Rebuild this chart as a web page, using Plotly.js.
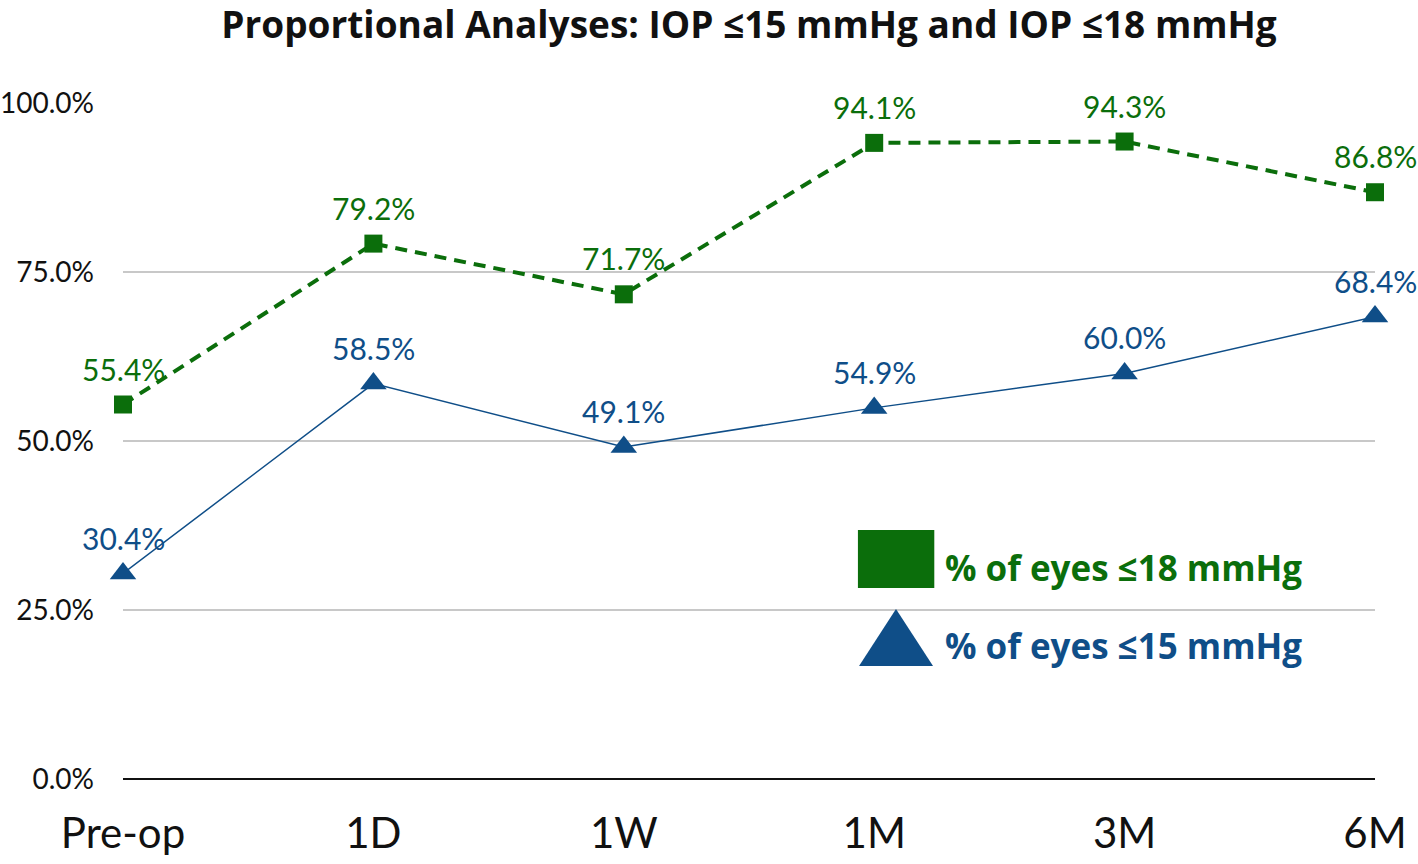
<!DOCTYPE html>
<html>
<head>
<meta charset="utf-8">
<script src="https://cdn.plot.ly/plotly-3.0.1.min.js"></script>
<style>
  html, body { margin: 0; padding: 0; background: #fff; }
  #chart { width: 1418px; height: 864px; }
</style>
</head>
<body>
<div id="chart"></div>
<script>
// time points and proportions (%)
var visits = ['Pre-op', '1D', '1W', '1M', '3M', '6M'];
var le18 = [55.4, 79.2, 71.7, 94.1, 94.3, 86.8];
var le15 = [30.4, 58.5, 49.1, 54.9, 60.0, 68.4];
var yTicks = [0, 25, 50, 75, 100];

var green = '#0b6e0b';
var blue = '#0f4e88';
var font = 'Lato, "Open Sans", sans-serif';
var boldFont = '"Open Sans", Lato, sans-serif';

var traces = [
  {
    type: 'scatter',
    mode: 'lines+markers',
    x: visits,
    y: le15,
    name: '% of eyes ≤15 mmHg',
    line: {color: blue, width: 1.5},
    marker: {symbol: 'triangle-up', size: 23, color: blue},
    cliponaxis: false,
    hoverinfo: 'skip'
  },
  {
    type: 'scatter',
    mode: 'lines+markers',
    x: visits,
    y: le18,
    name: '% of eyes ≤18 mmHg',
    line: {color: green, width: 4, dash: '12px,8px'},
    marker: {symbol: 'square', size: 18, color: green},
    cliponaxis: false,
    hoverinfo: 'skip'
  }
];

// value labels above each point
var annotations = [];
function addLabels(vals, color) {
  vals.forEach(function (v, i) {
    annotations.push({
      x: visits[i], y: v, xref: 'x', yref: 'y',
      text: v.toFixed(1) + '%',
      showarrow: false, yshift: 36,
      font: {family: font, size: 30, color: color}
    });
  });
}
addLabels(le18, green);
addLabels(le15, blue);

// custom legend with large symbols (paper coords)
annotations.push({
  xref: 'paper', yref: 'paper', x: 0.655, y: 0.313, xanchor: 'left', yanchor: 'middle',
  text: '<b>% of eyes ≤18 mmHg</b>', showarrow: false,
  font: {family: boldFont, size: 35, color: green}
});
annotations.push({
  xref: 'paper', yref: 'paper', x: 0.655, y: 0.198, xanchor: 'left', yanchor: 'middle',
  text: '<b>% of eyes ≤15 mmHg</b>', showarrow: false,
  font: {family: boldFont, size: 35, color: blue}
});

var shapes = [
  {type: 'rect', xref: 'paper', yref: 'paper', x0: 0.587, x1: 0.648, y0: 0.2825, y1: 0.3683,
   fillcolor: green, line: {width: 0}},
  {type: 'path', xref: 'paper', yref: 'paper',
   path: 'M 0.5879 0.1672 L 0.6470 0.1672 L 0.6174 0.2515 Z',
   fillcolor: blue, line: {width: 0}}
];

var layout = {
  width: 1418,
  height: 864,
  margin: {l: 123, r: 43, t: 103, b: 85},
  paper_bgcolor: '#fff',
  plot_bgcolor: '#fff',
  showlegend: false,
  font: {family: font, color: '#111'},
  title: {
    text: '<b>Proportional Analyses: IOP ≤15 mmHg and IOP ≤18 mmHg</b>',
    font: {family: boldFont, size: 37, color: '#111'},
    x: 0.5, xref: 'paper', xanchor: 'center',
    y: 0.971, yref: 'container', yanchor: 'middle'
  },
  xaxis: {
    type: 'category',
    range: [0, 5],
    showgrid: false,
    showline: false,
    zeroline: false,
    ticks: '',
    ticklabelstandoff: 26,
    tickfont: {family: font, size: 42, color: '#111'}
  },
  yaxis: {
    range: [0, 100],
    tickvals: yTicks,
    ticktext: yTicks.map(function (t) { return t.toFixed(1) + '%'; }),
    showgrid: true,
    gridcolor: '#c8c8c8',
    gridwidth: 1.5,
    zeroline: true,
    zerolinecolor: '#111',
    zerolinewidth: 1.5,
    showline: false,
    ticks: '',
    ticklabelstandoff: 28,
    tickfont: {family: font, size: 28, color: '#111'}
  },
  annotations: annotations,
  shapes: shapes
};

Plotly.newPlot('chart', traces, layout, {displayModeBar: false, staticPlot: true});
</script>
</body>
</html>
